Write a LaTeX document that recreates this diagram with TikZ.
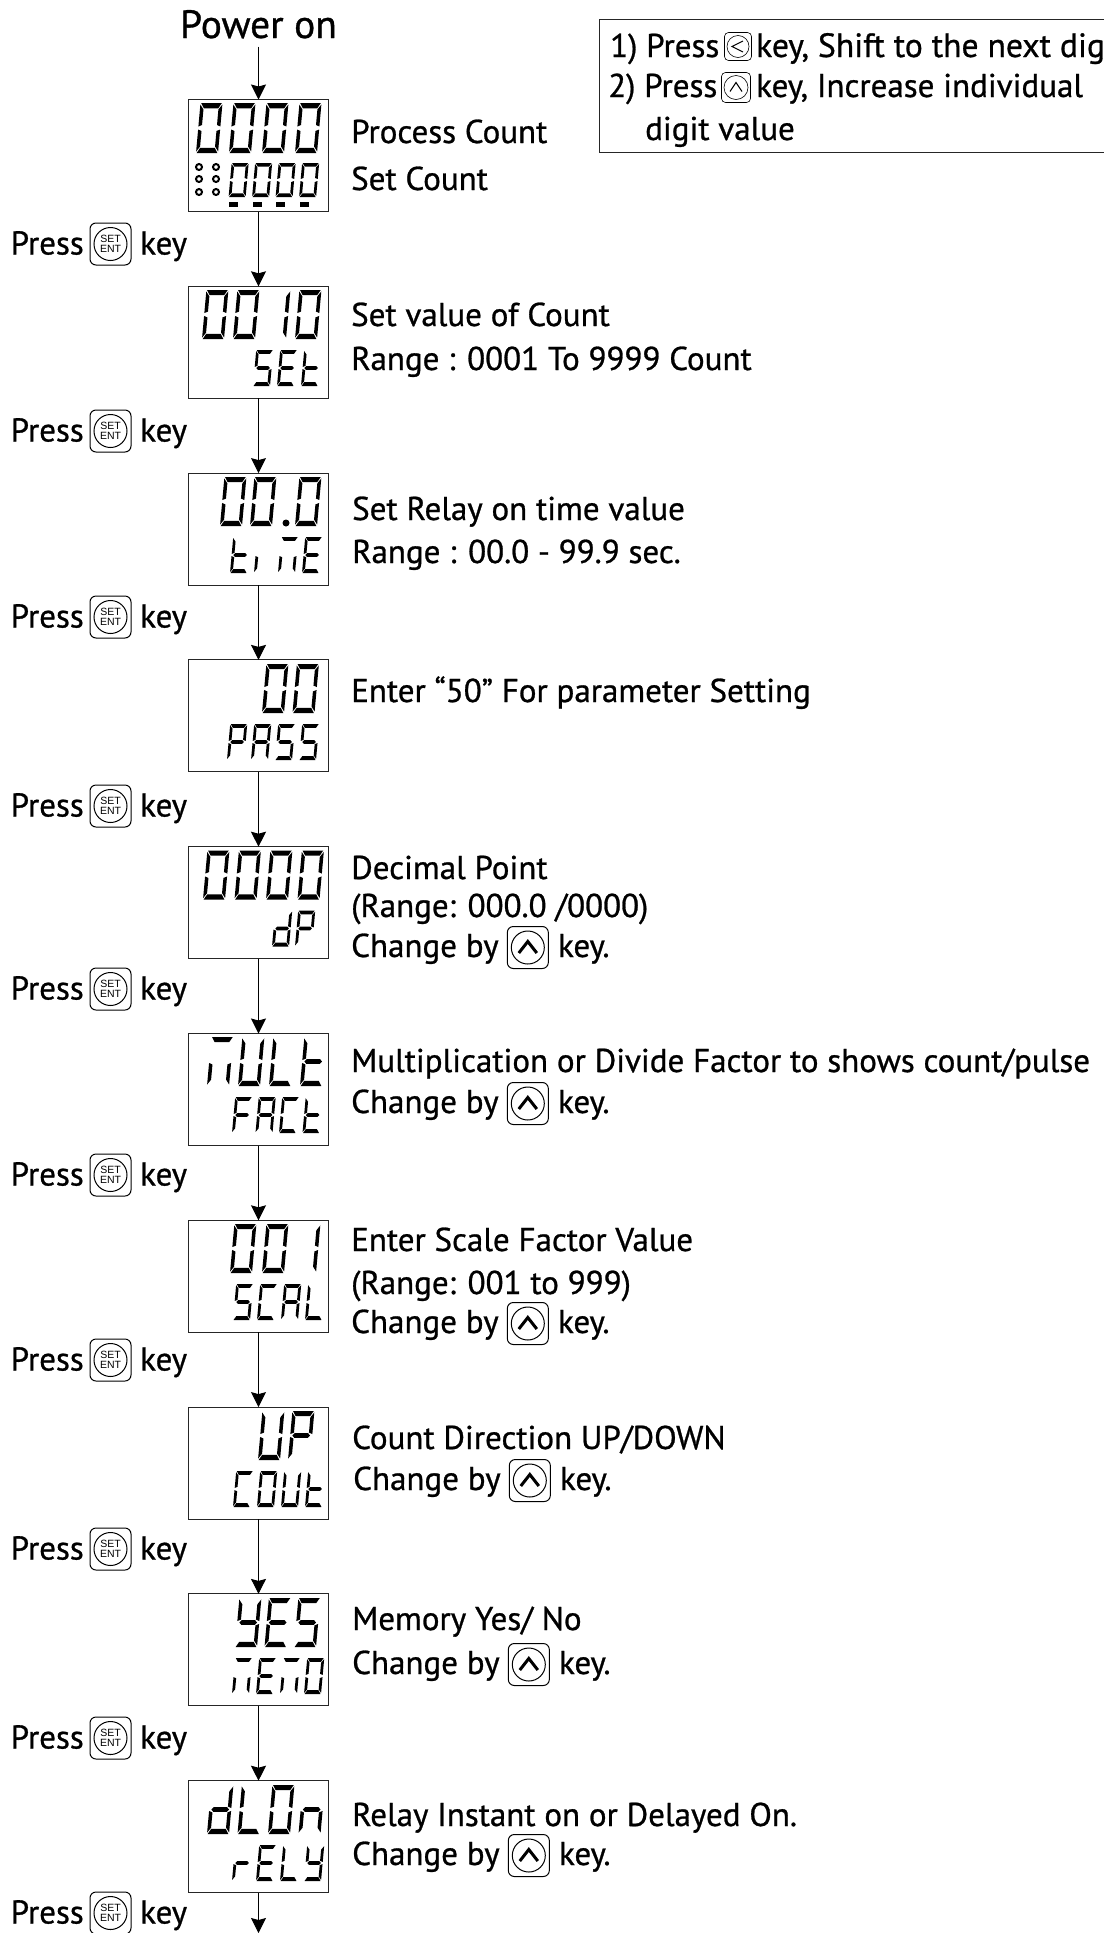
\documentclass[tikz,border=0pt]{standalone}
\usepackage{fontspec}
\setmainfont[FakeBold=0.8]{PT Sans}
\newfontfamily\keyfont{Liberation Sans}
\usetikzlibrary{arrows.meta}
\tikzset{
	lcdbox/.style={draw=black!85,line width=1pt,minimum width=140pt,minimum height=112pt,inner sep=0pt,outer sep=0pt},
	desc/.style={anchor=base west,inner sep=0pt,font=\fontsize{33}{33}\selectfont},
	note/.style={anchor=base west,inner sep=0pt,font=\fontsize{33}{33}\selectfont},
	keyrect/.style={draw,rounded corners=6pt,line width=1pt,minimum width=41pt,minimum height=42pt,inner sep=0pt},
	keyround/.style={draw,circle,line width=1pt,minimum size=33pt,inner sep=0pt,align=center,font=\keyfont\fontsize{10.5}{11}\selectfont},
	smallkey/.style={draw,rounded corners=4pt,line width=.6pt,minimum width=27pt,minimum height=28pt,inner sep=0pt},
	smallround/.style={draw,circle,line width=.6pt,minimum size=22pt,inner sep=0pt},
}
% segments of one lcd digit
\newcommand{\lcdsega}{\fill (.03,1)--(.97,1)--(.83,.895)--(.17,.895)--cycle;}
\newcommand{\lcdsegb}{\fill (1,.53)--(1,.97)--(.84,.87)--(.84,.56)--cycle;}
\newcommand{\lcdsegc}{\fill (1,.47)--(1,.03)--(.84,.13)--(.84,.44)--cycle;}
\newcommand{\lcdsegd}{\fill (.03,0)--(.97,0)--(.83,.105)--(.17,.105)--cycle;}
\newcommand{\lcdsege}{\fill (0,.47)--(0,.03)--(.16,.13)--(.16,.44)--cycle;}
\newcommand{\lcdsegf}{\fill (0,.53)--(0,.97)--(.16,.87)--(.16,.56)--cycle;}
\newcommand{\lcdsegg}{\fill (.1,.5)--(.2,.55)--(.8,.55)--(.9,.5)--(.8,.45)--(.2,.45)--cycle;}
\newcommand{\lcdsegz}{}
\expandafter\def\csname glyph0\endcsname{a,b,c,d,e,f}
\expandafter\def\csname glyph1\endcsname{b,c}
\def\glyphx{z}
\def\glyphS{a,c,d,f,g}
\def\glyphE{a,d,e,f,g}
\def\glypht{d,e,f,g}
\def\glyphI{e}
\def\glyphM{a,c,e}
\def\glyphP{a,b,e,f,g}
\def\glyphA{a,b,c,e,f,g}
\def\glyphd{b,c,d,e,g}
\def\glyphU{b,c,d,e,f}
\def\glyphL{d,e,f}
\def\glyphF{a,e,f,g}
\def\glyphC{a,d,e,f}
\def\glyphY{b,c,d,f,g}
\def\glyphn{c,e,g}
\def\glyphr{e,g}
% x, top, pitch, width, height, glyphs
\newcommand{\lcdrow}[6]{
	\foreach \g [count=\i from 0] in {#6}{
		\edef\gsegs{\csname glyph\g\endcsname}
		\begin{scope}[shift={({#1+\i*#3},{#2+#5})},x={(#4pt,0pt)},y={({.09*#5pt},#5pt)}]
			\foreach \s in \gsegs {\csname lcdseg\s\endcsname}
		\end{scope}
	}
}
\newcommand{\bigrow}[4]{\lcdrow{#1}{#2+4}{#3}{22}{49}{#4}}
\newcommand{\smallrow}[4]{\lcdrow{#1}{#2+64}{#3}{17}{36}{#4}}
% name, y of the key
\newcommand{\presskey}[2]{
	\node[desc] (press#1) at (10.5,{#2+10.5}) {Press};
	\node[keyrect] (setkey#1) at (110.5,#2) {};
	\node[keyround] at (setkey#1) {SET\\[-1pt]ENT};
	\node[desc] (keyword#1) at (140,{#2+10.5}) {key};
}
% name, x, baseline
\newcommand{\changeby}[3]{
	\node[desc] (change#1) at (#2,#3) {Change by};
	\node[keyrect,anchor=west,xshift=8pt] (upkey#1) at ([yshift=9.5pt]change#1.base east) {};
	\node[draw,circle,line width=1pt,minimum size=33pt,inner sep=0pt] at (upkey#1) {};
	\draw[line width=3pt] ([shift={(-9pt,-5.5pt)}]upkey#1.center) -- ([shift={(0pt,6pt)}]upkey#1.center) -- ([shift={(9pt,-5.5pt)}]upkey#1.center);
	\node[desc,xshift=9pt] at (upkey#1.east |- change#1.base) {key.};
}
\begin{document}
\begin{tikzpicture}[x=1pt,y=-1pt,>={Stealth[length=15pt,width=15pt,inset=2pt]}]
	\useasboundingbox (0,0) rectangle (1104,1933);
	\node[anchor=base,inner sep=8pt,font=\fontsize{39.5}{39.5}\selectfont] (poweron) at (258.5,38) {Power on};
	\foreach \n in {0,...,9}{
		\node[lcdbox] (lcd\n) at (258.5,{155.5+186.8*\n}) {};
	}
	\coordinate (lastend) at (258.5,1933);
	% arrows
	\draw[->,line width=1pt] (poweron.south) -- (lcd0.north);
	\foreach \a/\b in {0/1,1/2,2/3,3/4,4/5,5/6,6/7,7/8,8/9}{
		\draw[->,line width=1pt] (lcd\a.south) -- (lcd\b.north);
	}
	\draw[->,line width=1pt] (lcd9.south) -- (lastend);
	% displays
	\lcdrow{196}{103}{33}{22}{50}{0,0,0,0}
	\lcdrow{228.6}{163}{23.5}{17}{34}{0,0,0,0}
	\foreach \y in {167,179,192}{
		\draw[line width=2pt] (199,\y) circle(3pt) (216,\y) circle(3pt);
	}
	\foreach \x in {229,253,276,300}{
		\fill (\x,202) rectangle ++(9,5);
	}
	\bigrow{202}{286}{31}{0,0,1,0}
	\smallrow{229}{286}{24}{x,S,E,t}
	\bigrow{220}{473}{30}{0,0}
	\bigrow{295}{473}{30}{0}
	\fill (286,523) circle(3.5pt);
	\smallrow{230}{473}{24}{t,I,M,E}
	\bigrow{262}{660}{30.5}{0,0}
	\smallrow{227}{660}{24}{P,A,S,S}
	\bigrow{203}{846.5}{31.5}{0,0,0,0}
	\smallrow{272}{846.5}{23}{d,P}
	\bigrow{207}{1033}{31}{M,U,L,t}
	\smallrow{232}{1033}{23.5}{F,A,C,t}
	\bigrow{230}{1220}{32}{0,0,1}
	\smallrow{233}{1220}{24}{S,C,A,L}
	\bigrow{258}{1407}{30}{U,P}
	\smallrow{233}{1407}{24}{C,0,U,t}
	\bigrow{235}{1594}{29.5}{Y,E,S}
	\smallrow{232}{1594}{24}{M,E,M,0}
	\bigrow{207}{1781}{30.5}{d,L,0,n}
	\smallrow{232}{1781}{24}{r,E,L,Y}
	% press keys
	\foreach \k/\y in {a/244,b/431,c/617,d/806,e/989,f/1175,g/1360,h/1549,i/1738,j/1913}{
		\presskey{\k}{\y}
	}
	% descriptions
	\node[desc] (proc) at (351,143) {Process Count};
	\node[desc] (setc) at (351,190) {Set Count};
	\node[desc] (setv) at (351,326) {Set value of Count};
	\node[desc] (rangea) at (351,370) {Range : 0001 To 9999 Count};
	\node[desc] (relt) at (352,520) {Set Relay on time value};
	\node[desc] (rangeb) at (352,563) {Range : 00.0 - 99.9 sec.};
	\node[desc] (pass) at (351,702) {Enter “50” For parameter Setting};
	\node[desc] (decp) at (351,879) {Decimal Point};
	\node[desc] (rangec) at (351,917) {(Range: 000.0 /0000)};
	\changeby{a}{351}{957}
	\node[desc] (mult) at (351,1072) {Multiplication or Divide Factor to shows count/pulse};
	\changeby{b}{351}{1113}
	\node[desc] (scal) at (351,1251) {Enter Scale Factor Value};
	\node[desc] (ranged) at (351,1294) {(Range: 001 to 999)};
	\changeby{c}{351}{1333}
	\node[desc] (cdir) at (352,1449) {Count Direction UP/DOWN};
	\changeby{d}{353}{1490}
	\node[desc] (memy) at (352,1630) {Memory Yes/ No};
	\changeby{e}{352}{1674}
	\node[desc] (rely) at (352,1826) {Relay Instant on or Delayed On.};
	\changeby{f}{352}{1865}
	% note box, runs off the page
	\draw[line width=1pt,black!85] (1104,19) -- (599,19) -- (599,152) -- (1104,152);
	\node[note] (noteone) at (610,57) {1) Press};
	\node[smallkey] (leftkey) at (738,46.5) {};
	\node[smallround] at (leftkey) {};
	\draw[line width=1pt] ([shift={(5pt,5.5pt)}]leftkey.center) -- ([shift={(-6pt,0pt)}]leftkey.center) -- ([shift={(5pt,-5.5pt)}]leftkey.center);
	\node[note,font=\fontsize{33.6}{34}\selectfont] (noteonb) at (756,57) {key, Shift to the next dig};
	\node[note] (notetwo) at (608,97) {2) Press};
	\node[smallkey,minimum width=29pt,minimum height=30pt] (upnote) at (736,87.5) {};
	\node[smallround,minimum size=24pt] at (upnote) {};
	\draw[line width=1pt] ([shift={(-6pt,-4pt)}]upnote.center) -- ([shift={(0pt,5pt)}]upnote.center) -- ([shift={(6pt,-4pt)}]upnote.center);
	\node[note] (notetwb) at (756,97) {key, Increase individual};
	\node[note] (notethree) at (645,140) {digit value};
\end{tikzpicture}
\end{document}
